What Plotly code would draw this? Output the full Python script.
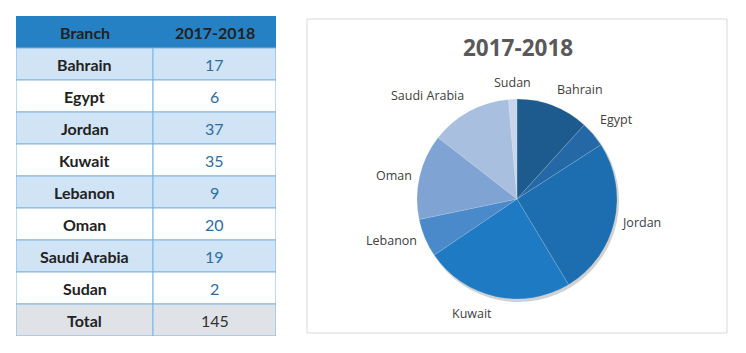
import math
import plotly.graph_objects as go

branches = ["Bahrain", "Egypt", "Jordan", "Kuwait", "Lebanon", "Oman", "Saudi Arabia", "Sudan"]
values = [17, 6, 37, 35, 9, 20, 19, 2]
total_label = "Total"
total_value = 145
period = "2017-2018"
headers = ["Branch", period]

pie_colors = ["#1D5A8E", "#2468A6", "#1D6EB0", "#1F7AC4", "#4A8ACB", "#7FA3D3", "#A8BFDF", "#C7D6EB"]

W, H = 746, 353

fig = go.Figure()

# ---------------- table drawn on a hidden axis (columns x, rows y) ----------------
col_edges = [0, 137, 260]
n_rows = len(branches) + 2  # header + branches + total
fig.update_layout(
    xaxis=dict(domain=[16 / W, 276 / W], range=[0, col_edges[-1]], visible=False, fixedrange=True),
    yaxis=dict(domain=[1 - 336 / H, 1 - 16 / H], range=[n_rows, 0], visible=False, fixedrange=True),
)

first_col = [headers[0]] + branches + [total_label]
second_col = [headers[1]] + [str(v) for v in values] + [str(total_value)]

for r_i in range(n_rows):
    if r_i == 0:
        fill, line = "#2581C4", "#2581C4"
    elif r_i == n_rows - 1:
        fill, line = "#DFE3E8", "#7DB5E4"
    else:
        fill = "#D0E4F5" if (r_i - 1) % 2 == 0 else "#FFFFFF"
        line = "#7DB5E4"
    for c_i in range(2):
        fig.add_shape(type="rect", xref="x", yref="y",
                      x0=col_edges[c_i], x1=col_edges[c_i + 1], y0=r_i, y1=r_i + 1,
                      fillcolor=fill, line=dict(color=line, width=1), layer="below")
    # texts
    fig.add_annotation(text="<b>" + first_col[r_i] + "</b>", xref="x", yref="y",
                       x=(col_edges[0] + col_edges[1]) / 2, y=r_i + 0.5, showarrow=False,
                       font=dict(family="Lato", size=16, color="#222222"))
    if r_i == 0:
        txt, colr = "<b>" + second_col[r_i] + "</b>", "#222222"
    elif r_i == n_rows - 1:
        txt, colr = second_col[r_i], "#333333"
    else:
        txt, colr = second_col[r_i], "#2E6DA4"
    fig.add_annotation(text=txt, xref="x", yref="y",
                       x=(col_edges[1] + col_edges[2]) / 2, y=r_i + 0.5, showarrow=False,
                       font=dict(family="Lato", size=16, color=colr))

# ---------------- pie ----------------
cx, cy, r = 517, 199, 100

fig.add_shape(type="rect", xref="paper", yref="paper",
              x0=307 / W, x1=727 / W, y0=1 - 333 / H, y1=1 - 19 / H,
              line=dict(color="#D9D9D9", width=1), fillcolor="rgba(0,0,0,0)", layer="below")

fig.add_shape(type="circle", xref="paper", yref="paper",
              x0=(cx - r + 1) / W, x1=(cx + r + 2) / W,
              y0=1 - (cy + r + 3) / H, y1=1 - (cy - r + 1) / H,
              line=dict(width=0), fillcolor="rgba(0,0,0,0.18)", layer="below")

fig.add_trace(go.Pie(
    labels=branches,
    values=values,
    sort=False,
    direction="clockwise",
    rotation=0,
    marker=dict(colors=pie_colors, line=dict(color="rgba(255,255,255,0.3)", width=0.5)),
    textinfo="none",
    domain=dict(x=[(cx - r) / W, (cx + r) / W], y=[1 - (cy + r) / H, 1 - (cy - r) / H]),
    showlegend=False,
    hoverinfo="label+value+percent",
))

# outside labels placed along each slice's mid-angle
tot = sum(values)
cum = 0
for lab, v in zip(branches, values):
    mid = (cum + v / 2) / tot * 2 * math.pi
    cum += v
    s, c = math.sin(mid), math.cos(mid)
    px = cx + 1.06 * r * s
    py = cy - 1.06 * r * c
    xa = "left" if s > 0.2 else ("right" if s < -0.2 else "center")
    ya = "bottom" if c > 0.5 else ("top" if c < -0.5 else "middle")
    fig.add_annotation(text=lab, xref="paper", yref="paper", x=px / W, y=1 - py / H,
                       showarrow=False, xanchor=xa, yanchor=ya,
                       font=dict(family="Open Sans", size=12.5, color="#404040"))

fig.add_annotation(text="<b>" + period + "</b>", xref="paper", yref="paper",
                   x=518 / W, y=1 - 47 / H, showarrow=False,
                   font=dict(family="Open Sans", size=22.5, color="#595959"),
                   xanchor="center", yanchor="middle")

fig.update_layout(
    width=W, height=H,
    margin=dict(l=0, r=0, t=0, b=0),
    paper_bgcolor="white",
    plot_bgcolor="white",
)

fig.write_html("out.html")
